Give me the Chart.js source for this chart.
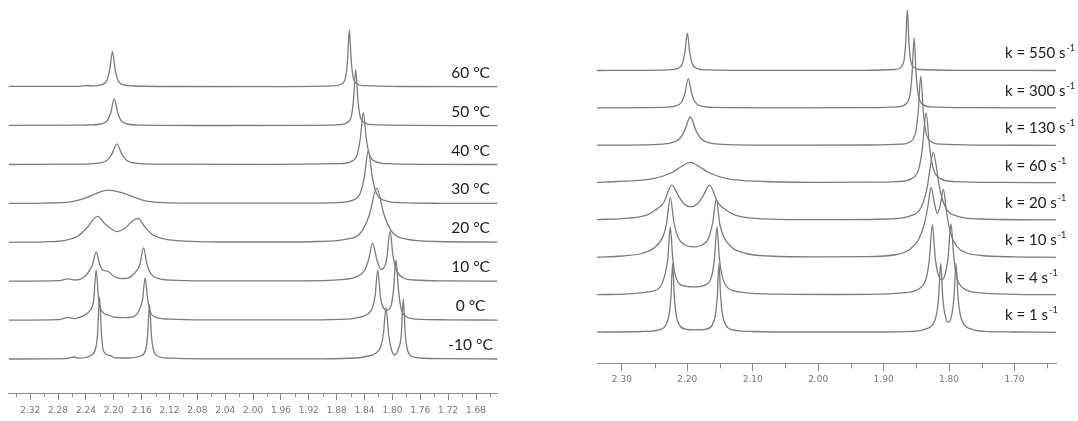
<!DOCTYPE html>
<html>
<head>
<meta charset="utf-8">
<script src="https://cdn.jsdelivr.net/npm/chart.js@4.4.1/dist/chart.umd.min.js"></script>
<style>
  html, body { margin: 0; padding: 0; background: #fff; }
  body { width: 1078px; height: 421px; position: relative; overflow: hidden; }
  #tempChart { position: absolute; left: 0; top: 0; }
  #rateChart { position: absolute; left: 580px; top: 0; }
</style>
</head>
<body>
<canvas id="tempChart" width="500" height="421"></canvas>
<canvas id="rateChart" width="498" height="421"></canvas>
<script>
// ---- data: [ppm, intensity] pairs, top trace first ----

const tempLabels = ['60 °C', '50 °C', '40 °C', '30 °C', '20 °C', '10 °C', '0 °C', '-10 °C'];

const temp60 = [[2.351,0.3],[2.25,0.4],[2.2366,1.2],[2.232,0.7],[2.217,2],[2.2095,7],[2.2057,17.5],[2.2019,35],[2.1981,17.5],[2.1943,7],[2.1869,2],[2.172,0.7],[2.10,0.2],[1.95,0.1],[1.882,1],[1.8718,3.3],[1.8668,11],[1.8643,28],[1.8618,56.7],[1.8593,28],[1.8568,11],[1.8518,3.3],[1.8418,1],[1.78,0.2],[1.649,0]];
const temp50 = [[2.351,0.3],[2.25,0.4],[2.2374,0.6],[2.2184,1.6],[2.209,5.3],[2.2042,13.4],[2.1994,26.7],[2.1946,13.4],[2.1898,5.3],[2.1804,1.6],[2.1614,0.5],[2.05,0.1],[1.90,0.3],[1.8757,0.9],[1.8641,3.3],[1.8584,11.2],[1.8556,28],[1.8527,56],[1.8498,28],[1.847,11.2],[1.8413,3.3],[1.8297,0.9],[1.77,0.2],[1.649,0]];
const temp40 = [[2.351,0],[2.2526,0.4],[2.2246,1.2],[2.21,4.1],[2.2028,10.4],[2.1956,20.7],[2.1884,10.4],[2.1813,4.1],[2.1666,1.2],[2.1386,0.4],[2.0,0.1],[1.876,0.8],[1.8588,3.1],[1.8504,10.4],[1.8461,26],[1.8418,52],[1.8375,26],[1.8332,10.4],[1.8248,3.1],[1.8078,0.8],[1.75,0.1],[1.649,0]];
const temp30 = [[2.351,0],[2.30,0.3],[2.262,1.5],[2.242,5],[2.225,10],[2.208,13.3],[2.19,11],[2.172,6.5],[2.155,2.5],[2.13,0.8],[2.06,0.2],[1.92,0.3],[1.8806,0.8],[1.8576,3.1],[1.8461,10.5],[1.8404,26],[1.8346,52.7],[1.8288,26],[1.8231,10.5],[1.8116,3.1],[1.7886,0.8],[1.73,0.1],[1.649,0]];
const temp20 = [[2.351,0],[2.30,0.5],[2.27,2],[2.252,6],[2.238,15],[2.2234,26],[2.212,18],[2.2047,14],[2.1956,10.7],[2.184,14],[2.175,20],[2.1654,24],[2.155,15],[2.143,7],[2.125,3],[2.09,1],[2.03,0.3],[1.95,0.3],[1.9085,0.8],[1.8655,3.2],[1.844,10.8],[1.8333,27],[1.8225,54],[1.8118,27],[1.801,10.8],[1.7795,3.2],[1.7365,0.8],[1.649,0.2]];
const temp10 = [[2.351,0],[2.28,0.5],[2.265,2.3],[2.256,1.2],[2.245,3],[2.2353,10],[2.2303,17],[2.2253,29.3],[2.2203,17],[2.2153,11],[2.209,10],[2.2,5],[2.19,2.5],[2.18,3],[2.1724,6.5],[2.1624,17],[2.1574,33.3],[2.1524,17],[2.1474,8],[2.1374,3],[2.117,1],[2.07,0.3],[1.93,0.3],[1.8743,1.5],[1.8513,4.5],[1.8398,11],[1.834,22],[1.8283,38],[1.8225,22],[1.8162,11.7],[1.8095,18],[1.8077,25],[1.8034,50],[1.7991,25],[1.7948,12],[1.7862,4],[1.769,1.2],[1.72,0.3],[1.649,0]];
const temp0 = [[2.351,0],[2.28,0.5],[2.265,2.5],[2.256,1.5],[2.248,3],[2.241,5.5],[2.2361,8],[2.2289,20],[2.2253,50],[2.2217,20],[2.2145,7],[2.2076,5],[2.2,3],[2.185,2.5],[2.17,4],[2.1622,12],[2.1586,21],[2.155,42.3],[2.1514,21],[2.1478,9],[2.1406,3],[2.12,1],[2.07,0.3],[1.92,0.3],[1.8643,1],[1.8499,2.5],[1.8355,6],[1.8283,13],[1.8247,25],[1.8211,50],[1.8175,25],[1.8139,13.5],[1.808,10],[1.8021,14],[1.7985,30],[1.7949,60],[1.7913,30],[1.7877,12],[1.7805,3.5],[1.766,1],[1.72,0.3],[1.649,0]];
const tempM10 = [[2.351,0],[2.27,0.3],[2.2568,2],[2.25,0.8],[2.24,1.5],[2.2324,4],[2.2262,10],[2.2234,24],[2.2205,61.7],[2.2176,24],[2.2148,8],[2.2052,3.3],[2.198,1.2],[2.18,1],[2.162,3],[2.1544,9],[2.1516,22],[2.1487,54],[2.1458,22],[2.143,9],[2.1373,3],[2.12,0.8],[2.07,0.2],[1.90,0.2],[1.8524,1],[1.838,2.5],[1.8236,6],[1.8164,13],[1.8128,26],[1.8092,51.7],[1.8056,26],[1.802,11],[1.797,4],[1.7915,10],[1.7873,24],[1.7844,60],[1.7815,24],[1.7787,10],[1.773,3],[1.76,1],[1.72,0.3],[1.649,0]];

const rateValues = ['550', '300', '130', '60', '20', '10', '4', '1'];

const rate550 = [[2.338,0],[2.26,0.2],[2.229,0.6],[2.2144,2.2],[2.2072,7.5],[2.2036,18.7],[2.2,37.3],[2.1964,18.7],[2.1928,7.5],[2.1856,2.2],[2.171,0.6],[2.08,0.1],[1.93,0.2],[1.8821,1],[1.8729,3.6],[1.8683,12],[1.866,30],[1.8637,60.7],[1.8614,30],[1.8591,12],[1.8545,3.6],[1.8453,1],[1.78,0.2],[1.6365,0]];
const rate300 = [[2.338,0],[2.26,0.3],[2.2395,0.45],[2.2189,1.7],[2.2087,5.9],[2.2036,14.7],[2.1985,29.3],[2.1934,14.7],[2.1883,5.9],[2.1781,1.7],[2.1575,0.45],[2.06,0.1],[1.92,0.3],[1.8778,1.1],[1.8656,4.1],[1.8595,14],[1.8564,35],[1.8534,70],[1.8504,35],[1.8473,14],[1.8412,4.1],[1.829,1.1],[1.76,0.2],[1.6365,0]];
const rate130 = [[2.338,0.1],[2.2674,0.45],[2.2314,1.7],[2.2133,5.7],[2.2044,14.2],[2.1954,28.3],[2.1864,14.2],[2.1775,5.7],[2.1594,1.7],[2.1234,0.45],[2.02,0.1],[1.92,0.3],[1.8732,1.1],[1.8584,4],[1.8508,13.8],[1.847,34.5],[1.8432,69],[1.8394,34.5],[1.8356,13.8],[1.828,4],[1.8132,1.1],[1.75,0.2],[1.6365,0]];
const rate60 = [[2.338,0.3],[2.3084,1.2],[2.2519,4],[2.2234,10.2],[2.2094,16],[2.1954,20.3],[2.1814,16],[2.1674,10.2],[2.1389,4],[2.0824,1.2],[2.0,0.4],[1.92,0.5],[1.8791,1.1],[1.8571,4.1],[1.8461,14],[1.8406,35],[1.8351,69.7],[1.8296,35],[1.8241,14],[1.8131,4.1],[1.7911,1.1],[1.72,0.3],[1.6365,0]];
const rate20 = [[2.338,0.5],[2.29,2],[2.262,5],[2.2488,10],[2.2361,17.5],[2.2234,35],[2.2134,24],[2.2047,16],[2.1947,13.3],[2.1847,16],[2.176,24],[2.166,35],[2.1533,17.5],[2.1406,10],[2.127,5],[2.10,2],[2.06,0.8],[1.98,0.5],[1.92,0.6],[1.896,1.1],[1.86,4],[1.842,13.6],[1.833,34],[1.8285,54],[1.824,68],[1.8195,54],[1.815,34],[1.806,13.6],[1.788,4],[1.752,1.1],[1.6365,0.2]];
const rate10 = [[2.338,0.3],[2.30,1.5],[2.27,4],[2.25,10],[2.2365,22],[2.2315,35],[2.226,60],[2.2205,35],[2.214,20],[2.205,13],[2.19,10.7],[2.176,13],[2.167,20],[2.1612,35],[2.1557,58],[2.1502,33],[2.1437,20],[2.132,10],[2.11,4],[2.075,1.5],[2.0,0.6],[1.93,0.8],[1.88,3],[1.86,8],[1.8465,18],[1.838,33],[1.832,52],[1.8275,70],[1.8225,55],[1.818,44],[1.8135,52],[1.8087,68],[1.8037,45],[1.798,25],[1.789,12],[1.775,5],[1.75,2],[1.70,0.6],[1.6365,0.2]];
const rate4 = [[2.338,0.2],[2.29,1],[2.26,3],[2.2412,8],[2.2336,22],[2.2298,36],[2.226,67.7],[2.2222,36],[2.2184,20],[2.21,10],[2.19,8],[2.172,10],[2.1623,20],[2.1585,36],[2.1547,67.7],[2.1509,36],[2.1471,20],[2.1395,8],[2.12,3],[2.08,1],[1.98,0.4],[1.92,0.5],[1.8715,2],[1.8439,7],[1.8347,17],[1.8301,35],[1.8255,70],[1.8209,36],[1.8163,20],[1.8111,15],[1.8062,20],[1.8016,36],[1.797,71],[1.7924,36],[1.7878,17],[1.7786,7],[1.751,2],[1.70,0.6],[1.6365,0.2]];
const rate1 = [[2.338,0.2],[2.27,0.8],[2.2436,2.5],[2.233,7],[2.2277,18],[2.225,35],[2.2224,69],[2.2198,35],[2.2171,18],[2.2118,7],[2.2012,3],[2.187,2.5],[2.1728,3],[2.1622,7],[2.1569,18],[2.1542,35],[2.1516,69],[2.149,35],[2.1463,18],[2.141,7],[2.1304,2.5],[2.10,0.8],[2.02,0.3],[1.92,0.3],[1.8555,1],[1.8371,3],[1.8249,8],[1.8188,19],[1.8158,36],[1.8127,69],[1.8097,36],[1.8066,19],[1.801,10],[1.7954,19],[1.7923,36],[1.7893,69],[1.7863,36],[1.7832,19],[1.7771,8],[1.7649,3],[1.7465,1],[1.70,0.3],[1.6365,0]];

const tempTicks = [2.32, 2.28, 2.24, 2.20, 2.16, 2.12, 2.08, 2.04, 2.00, 1.96, 1.92, 1.88, 1.84, 1.80, 1.76, 1.72, 1.68];
const tempMinorTicks = [2.34, 2.30, 2.26, 2.22, 2.18, 2.14, 2.10, 2.06, 2.02, 1.98, 1.94, 1.90, 1.86, 1.82, 1.78, 1.74, 1.70, 1.66];
const rateTicks = [2.30, 2.20, 2.10, 2.00, 1.90, 1.80, 1.70];
const rateMinorTicks = [2.25, 2.15, 2.05, 1.95, 1.85, 1.75, 1.65];

// ---- plugins ----

// short ticks between the labelled ones
const minorTicks = {
    id: 'minorTicks',
    afterDraw: function (chart, args, opts) {
        const x = chart.scales.x;
        const ctx = chart.ctx;
        ctx.save();
        ctx.strokeStyle = opts.color;
        ctx.lineWidth = 1;
        opts.values.forEach(v => {
            const px = Math.round(x.getPixelForValue(v)) + 0.5;
            ctx.beginPath();
            ctx.moveTo(px, x.top);
            ctx.lineTo(px, x.top + opts.length);
            ctx.stroke();
        });
        ctx.restore();
    }
};

// label at the right end of each trace
const traceLabels = {
    id: 'traceLabels',
    afterDatasetsDraw: function (chart, args, opts) {
        const ctx = chart.ctx;
        const y = chart.scales.y;
        ctx.save();
        ctx.fillStyle = '#1c1c1c';
        ctx.textBaseline = 'middle';
        chart.data.datasets.forEach(ds => {
            const py = y.getPixelForValue(ds.offset) - opts.lift;
            const px = chart.chartArea.right - opts.inset;
            ctx.font = opts.font;
            ctx.textAlign = opts.align;
            ctx.fillText(ds.label, px, py);
            if (ds.sup) {
                const w = ctx.measureText(ds.label).width;
                ctx.font = opts.supFont;
                ctx.textAlign = 'left';
                ctx.fillText(ds.sup, px + w + 1, py - 5);
            }
        });
        ctx.restore();
    }
};

function buildDatasets(spectra, labels, sups, base, step) {
    const n = spectra.length;
    return spectra.map((pts, i) => {
        const offset = base + (n - 1 - i) * step;
        return {
            label: labels[i],
            sup: sups ? sups[i] : null,
            offset: offset,
            data: pts.map(p => ({ x: p[0], y: p[1] + offset })),
            borderColor: '#7c7c7c',
            borderWidth: 1.3,
            pointRadius: 0,
            cubicInterpolationMode: 'monotone',
            fill: false
        };
    });
}

function createSpectrumChart(canvasId, cfg) {
    const ctx = document.getElementById(canvasId);
    return new Chart(ctx, {
        type: 'line',
        data: { datasets: cfg.datasets },
        options: {
            responsive: false,
            animation: false,
            events: [],
            layout: { padding: cfg.padding },
            plugins: {
                legend: { display: false },
                tooltip: { enabled: false },
                minorTicks: { values: cfg.minor, length: cfg.minorLength, color: '#8a8a8a' },
                traceLabels: cfg.labelOpts
            },
            scales: {
                x: {
                    type: 'linear',
                    reverse: true,
                    min: cfg.min,
                    max: cfg.max,
                    afterBuildTicks: scale => { scale.ticks = cfg.ticks.map(v => ({ value: v })); },
                    afterFit: scale => { scale.height = cfg.axisHeight; },
                    border: { display: true, color: '#8a8a8a', width: 1 },
                    grid: { drawOnChartArea: false, drawTicks: true, tickLength: cfg.tickLength, color: '#8a8a8a' },
                    ticks: {
                        autoSkip: false,
                        maxRotation: 0,
                        padding: cfg.labelPadding,
                        color: '#777',
                        font: { family: 'DejaVu Sans', size: 9 },
                        callback: v => v.toFixed(2)
                    }
                },
                y: { display: false, min: 0, max: cfg.yMax }
            }
        },
        plugins: [minorTicks, traceLabels]
    });
}

createSpectrumChart('tempChart', {
    datasets: buildDatasets([temp60, temp50, temp40, temp30, temp20, temp10, temp0, tempM10], tempLabels, null, 34, 38.9),
    min: 1.649, max: 2.351,
    padding: { left: 8.6, right: 2.4, top: 0, bottom: 0 },
    axisHeight: 28, yMax: 393,
    ticks: tempTicks, minor: tempMinorTicks,
    tickLength: 7, minorLength: 4, labelPadding: 5,
    labelOpts: { lift: 14, inset: 27, align: 'center', font: '15.5px Lato', supFont: '9px Lato' }
});

createSpectrumChart('rateChart', {
    datasets: buildDatasets([rate550, rate300, rate130, rate60, rate20, rate10, rate4, rate1],
        rateValues.map(r => 'k = ' + r + ' s'), rateValues.map(() => '-1'), 31, 37.4),
    min: 1.6365, max: 2.338,
    padding: { left: 17, right: 22, top: 0, bottom: 0 },
    axisHeight: 57.7, yMax: 363.3,
    ticks: rateTicks, minor: rateMinorTicks,
    tickLength: 8, minorLength: 5, labelPadding: 3,
    labelOpts: { lift: 17, inset: 51, align: 'left', font: '15px Lato', supFont: '9px Lato' }
});
</script>
</body>
</html>
